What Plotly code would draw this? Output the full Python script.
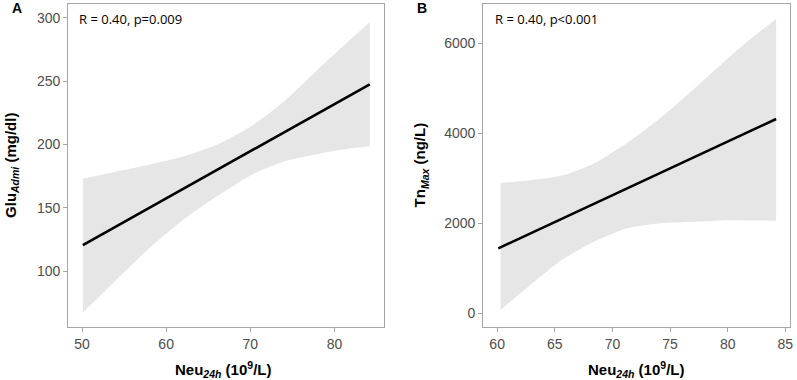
import plotly.graph_objects as go

# ---- Panel A data ----
a_band_x = [50.1, 54, 58, 62, 66, 70, 74, 78, 82, 84.2]
a_upper = [173, 178.5, 184, 190.4, 199.7, 214, 234, 259, 283.5, 296.5]
a_lower = [67, 92.5, 118, 140.3, 158.8, 175.5, 186.5, 192.5, 197, 198.6]
a_fit_x = [50.1, 84.2]
a_fit_y = [120.5, 247.5]
a_xticks = [50, 60, 70, 80]
a_yticks = [100, 150, 200, 250, 300]

# ---- Panel B data ----
b_band_x = [60.3, 62.7, 65.6, 68.4, 71.3, 74.2, 77.1, 80, 82, 84.2]
b_upper = [2895, 2950, 3060, 3330, 3790, 4350, 4990, 5660, 6100, 6540]
b_lower = [73, 591, 1184, 1591, 1889, 2000, 2036, 2070, 2065, 2058]
b_fit_x = [60.1, 84.2]
b_fit_y = [1444, 4318]
b_xticks = [60, 65, 70, 75, 80, 85]
b_yticks = [0, 2000, 4000, 6000]

W, H = 797, 380
BAND = "#e6e6e6"
AXC = "#a6a6a6"
TICKC = "#4d4d4d"

fig = go.Figure()

def add_panel(bx, up, lo, fx, fy, xa, ya):
    fig.add_trace(go.Scatter(x=bx, y=lo, mode="lines", line=dict(width=0, shape="spline", smoothing=0.7),
                             xaxis=xa, yaxis=ya, showlegend=False, hoverinfo="skip"))
    fig.add_trace(go.Scatter(x=bx, y=up, mode="lines", line=dict(width=0, shape="spline", smoothing=0.7),
                             fill="tonexty", fillcolor=BAND,
                             xaxis=xa, yaxis=ya, showlegend=False, hoverinfo="skip"))
    fig.add_trace(go.Scatter(x=fx, y=fy, mode="lines", line=dict(color="black", width=2.6),
                             xaxis=xa, yaxis=ya, showlegend=False))

add_panel(a_band_x, a_upper, a_lower, a_fit_x, a_fit_y, "x", "y")
add_panel(b_band_x, b_upper, b_lower, b_fit_x, b_fit_y, "x2", "y2")

def px_x(p):
    return p / W

def px_y(p):
    return 1 - p / H

ydom = [px_y(326.7), px_y(4)]
axis_common = dict(showgrid=False, zeroline=False, showline=True, linecolor=AXC, linewidth=1,
                   mirror=True, ticks="outside", ticklen=4, tickcolor=AXC, tickwidth=1,
                   tickfont=dict(family="Liberation Sans, Arial", size=14, color=TICKC))

fig.update_layout(
    width=W, height=H,
    margin=dict(l=0, r=0, t=0, b=0),
    paper_bgcolor="white", plot_bgcolor="white",
    xaxis=dict(domain=[px_x(68.3), px_x(385.7)], range=[48.34, 85.92], tickvals=a_xticks,
               anchor="y", **axis_common),
    yaxis=dict(domain=ydom, range=[56, 311], tickvals=a_yticks, anchor="x", **axis_common),
    xaxis2=dict(domain=[px_x(485), px_x(793.3)], range=[58.79, 85.43], tickvals=b_xticks,
                anchor="y2", **axis_common),
    yaxis2=dict(domain=ydom, range=[-297, 6873], tickvals=b_yticks, anchor="x2", **axis_common),
)

title_font = dict(family="Liberation Sans, Arial", size=15, color="black")
xt = "<b>Neu<sub><i>24h</i></sub> (10<sup>9</sup>/L)</b>"
anns = [
    dict(text=xt, x=px_x(224), y=px_y(369), xanchor="center", yanchor="middle", font=title_font),
    dict(text=xt, x=px_x(638), y=px_y(369), xanchor="center", yanchor="middle", font=title_font),
    dict(text="<b>Glu<sub><i>Admi</i></sub> (mg/dl)</b>", x=px_x(11), y=px_y(165), textangle=-90,
         xanchor="center", yanchor="middle", font=title_font),
    dict(text="<b>Tn<sub><i>Max</i></sub> (ng/L)</b>", x=px_x(422), y=px_y(165), textangle=-90,
         xanchor="center", yanchor="middle", font=title_font),
    dict(text="R = 0.40, p=0.009", x=px_x(77), y=px_y(19), xanchor="left", yanchor="middle",
         font=dict(family="Open Sans", size=13, color="black")),
    dict(text="R = 0.40, p<0.001", x=px_x(495), y=px_y(19), xanchor="left", yanchor="middle",
         font=dict(family="Open Sans", size=13, color="black")),
    dict(text="<b>A</b>", x=px_x(17), y=px_y(8), xanchor="center", yanchor="middle",
         font=dict(family="Liberation Sans, Arial", size=14, color="black")),
    dict(text="<b>B</b>", x=px_x(424), y=px_y(8), xanchor="center", yanchor="middle",
         font=dict(family="Liberation Sans, Arial", size=14, color="black")),
]
for a in anns:
    a.update(xref="paper", yref="paper", showarrow=False)
fig.update_layout(annotations=anns)

fig.write_html("out.html", config={"displayModeBar": False},
               post_script="document.body.style.margin='0';document.body.style.padding='0';")
